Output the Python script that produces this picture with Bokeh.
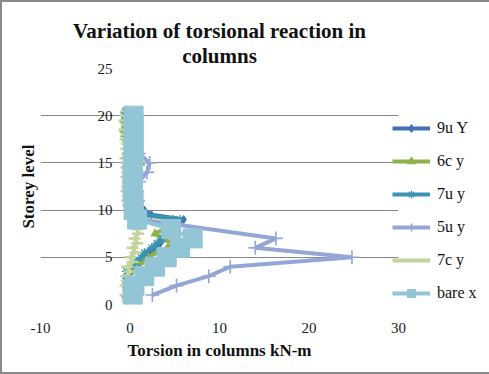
from bokeh.plotting import figure
from bokeh.models import Range1d, FixedTicker, Legend, LegendItem, Title
from bokeh.embed import file_html
from bokeh.resources import INLINE

# ---- data ----
levels_half = [0.5, 1.0, 1.5, 2.0, 2.5, 3.0, 3.5, 4.0, 4.5, 5.0, 5.5, 6.0, 6.5, 7.0,
               7.5, 8.0, 8.5, 9.0, 9.5, 10.0, 10.5, 11.0, 11.5, 12.0, 12.5, 13.0, 13.5,
               14.0, 14.5, 15.0, 15.5, 16.0, 16.5, 17.0, 17.5, 18.0, 18.5, 19.0, 19.5,
               20.0, 20.5]
t_9uY = [-0.3, -0.4, -0.2, -0.3, -0.1, -0.2, 0.2, 0.6, 1.2, 1.6, 2.2, 2.8, 3.4, 3.9,
         4.6, 5.0, 5.4, 6.0, 2.4, 1.6, 1.1, 0.8, 0.5, 0.3, 0.2, 0.1, 0.2, 0.0, 0.1,
         0.2, 0.0, -0.1, 0.0, -0.2, -0.1, -0.3, -0.2, -0.3, -0.4, -0.3, -0.4]
t_6cy = [-0.3, -0.5, -0.3, -0.4, -0.2, -0.3, 0.0, 0.5, 1.2, 2.0, 3.0, 4.2, 4.8, 3.5,
         2.8, 3.8, 4.4, 4.8, 1.5, 0.8, 0.4, 0.3, 0.2, 0.4, 0.5, 0.4, 0.6, 0.7, 1.0,
         1.2, 0.8, 0.3, 0.2, -0.2, -0.4, -0.6, -0.7, -0.5, -0.7, -0.5, -0.6]
t_7uy = [-0.4, -0.2, -0.4, -0.3, -0.5, -0.3, -0.4, 0.0, 0.6, 1.2, 1.6, 2.4, 3.0, 3.6,
         4.3, 4.8, 5.0, 5.6, 1.8, 1.2, 0.8, 0.5, 0.3, 0.2, 0.1, 0.0, 0.2, 0.1, 0.3,
         0.4, 0.2, 0.0, -0.2, -0.3, -0.2, -0.4, -0.3, -0.5, -0.4, -0.6, -0.5]
t_7cy = [-0.2, -0.5, -0.2, -0.5, -0.3, -0.4, 0.0, -0.3, 0.3, 0.0, 0.6, 0.3, 0.8, 0.5,
         0.9, 0.8, 1.2, 0.4, 0.2, 0.0, -0.2, -0.3, -0.2, -0.4, -0.3, -0.2, -0.4, -0.3,
         -0.4, -0.3, -0.5, -0.3, -0.4, -0.3, -0.5, -0.4, -0.6, -0.4, -0.6, -0.5, -0.4]
levels_5uy = [1, 2, 3, 4, 5, 6, 7, 9, 10, 11, 12, 13, 14, 15, 16, 17, 18, 19, 20]
t_5uy = [2.5, 5.2, 8.8, 11.2, 24.8, 14.0, 16.3, 1.2, 1.0, 0.9, 0.8, 1.0, 1.9, 2.2,
         1.0, 0.6, 0.4, 0.3, 0.3]
levels_bare = [1, 2, 3, 4, 5, 6, 7, 8, 9, 10, 11, 12, 13, 14, 15, 16, 17, 18, 19, 20]
t_barex = [0.3, 0.5, 1.6, 2.8, 4.1, 5.6, 7.0, 4.6, 0.8, 0.4, 0.4, 0.3, 0.3, 0.3, 0.3,
           0.4, 0.4, 0.4, 0.4, 0.4]

x_ticks = [-10, 0, 10, 20, 30]
x_tick_labels = ["-10", "0", "10", "20", "30"]
y_ticks = [0, 5, 10, 15, 20, 25]

FONT = "Liberation Serif"

p = figure(width=485, height=370, output_backend="svg", toolbar_location=None,
           x_range=Range1d(-10, 30), y_range=Range1d(0, 25),
           frame_width=358, frame_height=236,
           min_border_left=38, min_border_right=89, min_border_top=66,
           min_border_bottom=68, title_location=None)
p.styles = {"border": "2px solid #8a8a8a"}
p.outline_line_color = None
p.background_fill_color = "white"
p.border_fill_color = "white"

# grid
p.xgrid.visible = False
p.ygrid.grid_line_color = "#868686"
p.ygrid.grid_line_width = 1
p.ygrid.ticker = FixedTicker(ticks=y_ticks)

# x axis
p.xaxis.ticker = FixedTicker(ticks=x_ticks)
p.xaxis.major_label_overrides = dict(zip(x_ticks, x_tick_labels))
p.xaxis.axis_line_color = None
p.xaxis.major_tick_line_color = None
p.xaxis.minor_tick_line_color = None
p.xaxis.major_label_text_font = FONT
p.xaxis.major_label_text_font_size = "15px"
p.xaxis.major_label_text_color = "#1a1a1a"
p.xaxis.major_label_standoff = 12
p.xaxis.axis_label = "Torsion in columns kN-m"
p.xaxis.axis_label_text_font = FONT
p.xaxis.axis_label_text_font_size = "17px"
p.xaxis.axis_label_text_font_style = "bold"
p.xaxis.axis_label_text_color = "#111111"
p.xaxis.axis_label_standoff = 5

# y axis: labels sit just left of x = 0 (where the axis crosses)
p.yaxis.ticker = FixedTicker(ticks=y_ticks)
p.yaxis.axis_line_color = None
p.yaxis.major_tick_line_color = None
p.yaxis.minor_tick_line_color = None
p.yaxis.major_label_text_font = FONT
p.yaxis.major_label_text_font_size = "15px"
p.yaxis.major_label_text_color = "#1a1a1a"
p.yaxis.major_label_standoff = -78

p.add_layout(Title(text="Storey level", align="center", text_font=FONT,
                   text_font_size="17px", text_font_style="bold",
                   text_color="#111111", standoff=5), "left")
p.add_layout(Title(text="columns", align="center", text_font=FONT,
                   text_font_size="21px", text_font_style="bold",
                   text_color="#111111", standoff=2), "above")
p.add_layout(Title(text="Variation of torsional reaction in", align="center",
                   text_font=FONT, text_font_size="21px", text_font_style="bold",
                   text_color="#111111", standoff=-4), "above")

LW = 4
series = [
    ("9u Y", levels_half, t_9uY, "#4170b4", "diamond", 8, 1),
    ("6c y", levels_half, t_6cy, "#8fb14c", "triangle", 8, 1),
    ("7u y", levels_half, t_7uy, "#3a93b2", "asterisk", 9, 1.2),
    ("5u y", levels_5uy, t_5uy, "#94a6d6", "cross", 14, 1.6),
    ("7c y", levels_half, t_7cy, "#c3d49c", "dash", 12, 2.5),
    ("bare x", levels_bare, t_barex, "#92c5d5", "square", 19, 1),
]

items = []
for name, ys, xs, color, marker, size, mlw in series:
    lr = p.line(x=xs, y=ys, line_color=color, line_width=LW)
    sr = p.scatter(x=xs, y=ys, marker=marker, size=size, line_color=color,
                   fill_color=color, line_width=mlw)
    items.append(LegendItem(label=name, renderers=[lr, sr]))

legend = Legend(items=items, location=(-6, 1), glyph_width=38, glyph_height=20,
                spacing=13, padding=0, margin=0, label_standoff=7,
                label_text_font=FONT, label_text_font_size="16px",
                label_text_color="#111111", background_fill_alpha=0,
                border_line_color=None)
p.add_layout(legend, "right")

open("out.html", "w").write(file_html(p, INLINE))
